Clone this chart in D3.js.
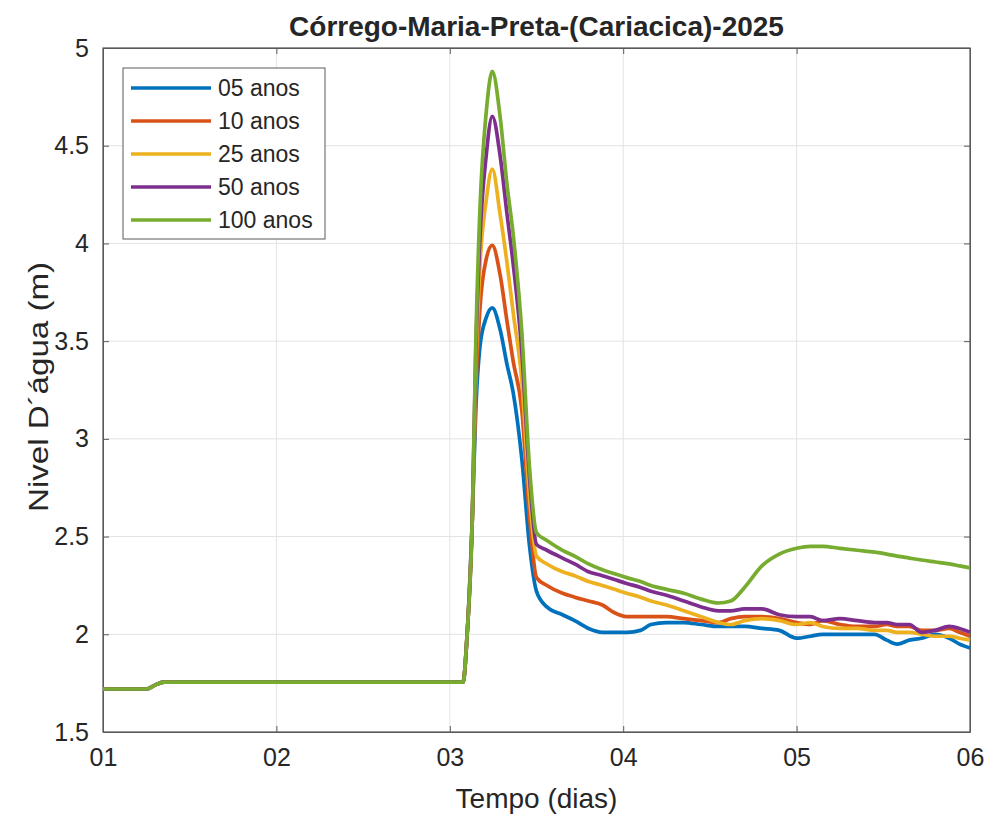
<!DOCTYPE html>
<html>
<head>
<meta charset="utf-8">
<script src="https://cdn.jsdelivr.net/npm/d3@7"></script>
<style>
  body { margin: 0; background: #fff; }
  text { font-family: "Liberation Sans", Arial, sans-serif; fill: #262626; }
</style>
</head>
<body>
<div id="chart"></div>
<script>
// time in days, shared by all series
const time = [1.0, 1.25, 1.30, 1.35, 3.076, 3.10, 3.13, 3.15, 3.175, 3.21, 3.245, 3.29, 3.33, 3.365, 3.415, 3.46, 3.50,
  3.56, 3.65, 3.72, 3.80, 3.88, 3.95, 4.02, 4.10, 4.16, 4.25, 4.35, 4.45, 4.55, 4.62, 4.70, 4.80, 4.90,
  5.0, 5.08, 5.15, 5.25, 5.35, 5.45, 5.52, 5.58, 5.65, 5.72, 5.80, 5.88, 5.94, 6.0];
const base = [1.72, 1.72, 1.74, 1.755, 1.755, 2.0, 2.6];

const anos05 = base.concat([3.15, 3.48, 3.62, 3.67, 3.56, 3.38, 3.24, 2.9, 2.45, 2.22,
  2.14, 2.10, 2.07, 2.03, 2.01, 2.01, 2.01, 2.02, 2.05, 2.06, 2.06, 2.05, 2.04, 2.04, 2.04, 2.03, 2.02,
  1.98, 1.99, 2.00, 2.00, 2.00, 2.00, 1.97, 1.95, 1.97, 1.98, 2.00, 1.98, 1.95, 1.93]);
const anos10 = base.concat([3.25, 3.68, 3.92, 3.99, 3.84, 3.6, 3.4, 3.15, 2.6, 2.29,
  2.25, 2.21, 2.19, 2.17, 2.15, 2.11, 2.09, 2.09, 2.09, 2.09, 2.08, 2.07, 2.06, 2.08, 2.09, 2.09, 2.08,
  2.06, 2.05, 2.07, 2.05, 2.04, 2.04, 2.05, 2.04, 2.04, 2.02, 2.02, 2.03, 2.01, 1.99]);
const anos25 = base.concat([3.35, 3.9, 4.22, 4.38, 4.15, 3.9, 3.65, 3.3, 2.7, 2.40,
  2.36, 2.32, 2.30, 2.27, 2.25, 2.23, 2.21, 2.19, 2.17, 2.15, 2.12, 2.09, 2.06, 2.05, 2.07, 2.08, 2.07,
  2.05, 2.06, 2.04, 2.03, 2.03, 2.02, 2.02, 2.01, 2.01, 2.00, 1.99, 1.99, 1.98, 1.97]);
const anos50 = base.concat([3.45, 4.05, 4.45, 4.65, 4.45, 4.15, 3.9, 3.45, 2.8, 2.46,
  2.43, 2.39, 2.36, 2.32, 2.30, 2.28, 2.26, 2.24, 2.22, 2.20, 2.17, 2.14, 2.12, 2.12, 2.13, 2.13, 2.10,
  2.09, 2.09, 2.07, 2.08, 2.07, 2.06, 2.06, 2.05, 2.05, 2.01, 2.02, 2.04, 2.03, 2.01]);
const anos100 = base.concat([3.5, 4.2, 4.67, 4.88, 4.65, 4.3, 4.05, 3.55, 2.85, 2.52,
  2.48, 2.43, 2.40, 2.36, 2.33, 2.31, 2.29, 2.27, 2.25, 2.23, 2.21, 2.18, 2.16, 2.17, 2.24, 2.35, 2.41,
  2.44, 2.45, 2.45, 2.44, 2.43, 2.42, 2.41, 2.40, 2.39, 2.38, 2.37, 2.36, 2.35, 2.34]);

const seriesNames = ["05 anos", "10 anos", "25 anos", "50 anos", "100 anos"];
const seriesValues = [anos05, anos10, anos25, anos50, anos100];
const colors = ["#0072BD", "#D95319", "#EDB120", "#7E2F8E", "#77AC30"];
const xTicks = [1, 2, 3, 4, 5, 6];
const xTickLabels = ["01", "02", "03", "04", "05", "06"];
const yTicks = [1.5, 2, 2.5, 3, 3.5, 4, 4.5, 5];

const width = 989, height = 818;
const pLeft = 103, pRight = 970, pTop = 48, pBottom = 732;

const svg = d3.select("#chart").append("svg")
  .attr("width", width)
  .attr("height", height);

const x = d3.scaleLinear().domain([1, 6]).range([pLeft, pRight]);
const y = d3.scaleLinear().domain([1.5, 5]).range([pBottom, pTop]);

// grid
svg.append("g")
  .selectAll("line")
  .data(xTicks)
  .enter().append("line")
  .attr("x1", d => x(d)).attr("x2", d => x(d))
  .attr("y1", pTop).attr("y2", pBottom)
  .attr("stroke", "#e3e3e3").attr("stroke-width", 1);
svg.append("g")
  .selectAll("line")
  .data(yTicks)
  .enter().append("line")
  .attr("x1", pLeft).attr("x2", pRight)
  .attr("y1", d => y(d)).attr("y2", d => y(d))
  .attr("stroke", "#e3e3e3").attr("stroke-width", 1);

// axes (ticks pointing inward, box all round)
const tickFont = "25px";
svg.append("g")
  .attr("transform", `translate(0,${pBottom})`)
  .call(d3.axisBottom(x).tickValues(xTicks).tickFormat((d, i) => xTickLabels[i]).tickSizeInner(-6).tickSizeOuter(0).tickPadding(16))
  .call(g => g.selectAll("text").attr("font-size", tickFont).attr("font-family", "Liberation Sans, Arial, sans-serif").attr("fill", "#333"));
svg.append("g")
  .attr("transform", `translate(${pLeft},0)`)
  .call(d3.axisLeft(y).tickValues(yTicks).tickFormat(d3.format("")).tickSizeInner(-6).tickSizeOuter(0).tickPadding(14))
  .call(g => g.selectAll("text").attr("font-size", tickFont).attr("font-family", "Liberation Sans, Arial, sans-serif").attr("fill", "#333"));
svg.append("g")
  .attr("transform", `translate(0,${pTop})`)
  .call(d3.axisTop(x).tickValues(xTicks).tickFormat("").tickSizeInner(-6).tickSizeOuter(0));
svg.append("g")
  .attr("transform", `translate(${pRight},0)`)
  .call(d3.axisRight(y).tickValues(yTicks).tickFormat("").tickSizeInner(-6).tickSizeOuter(0));
svg.selectAll(".domain, .tick line").attr("stroke", "#5a5a5a");

svg.append("rect")
  .attr("x", pLeft).attr("y", pTop)
  .attr("width", pRight - pLeft).attr("height", pBottom - pTop)
  .attr("fill", "none").attr("stroke", "#5a5a5a").attr("stroke-width", 1.2);

// lines
const line = d3.line()
  .x((d, i) => x(time[i]))
  .y(d => y(d))
  .curve(d3.curveMonotoneX);

svg.append("g")
  .selectAll("path")
  .data(seriesValues)
  .enter().append("path")
  .attr("d", d => line(d))
  .attr("fill", "none")
  .attr("stroke", (d, i) => colors[i])
  .attr("stroke-width", 3.7)
  .attr("stroke-linejoin", "round");

// legend
const leg = svg.append("g").attr("transform", "translate(123,68)");
leg.append("rect")
  .attr("width", 202).attr("height", 171)
  .attr("fill", "#fff").attr("stroke", "#5a5a5a").attr("stroke-width", 1);
const items = leg.selectAll("g.item")
  .data(seriesNames)
  .enter().append("g")
  .attr("class", "item")
  .attr("transform", (d, i) => `translate(0,${20 + i * 33})`);
items.append("line")
  .attr("x1", 8).attr("x2", 88)
  .attr("stroke", (d, i) => colors[i])
  .attr("stroke-width", 3.7);
items.append("text")
  .attr("x", 95).attr("y", 8)
  .attr("font-size", "23px")
  .text(d => d);

// title and labels
svg.append("text")
  .attr("x", (pLeft + pRight) / 2).attr("y", 36)
  .attr("text-anchor", "middle")
  .attr("font-size", "28px").attr("font-weight", "bold")
  .attr("fill", "#000")
  .text("Córrego-Maria-Preta-(Cariacica)-2025");
svg.append("text")
  .attr("x", (pLeft + pRight) / 2).attr("y", 808)
  .attr("text-anchor", "middle")
  .attr("font-size", "28px")
  .text("Tempo (dias)");
svg.append("text")
  .attr("transform", `translate(48,${(pTop + pBottom) / 2 - 3}) rotate(-90)`)
  .attr("text-anchor", "middle")
  .attr("font-size", "28px")
  .attr("textLength", 250)
  .attr("lengthAdjust", "spacingAndGlyphs")
  .text("Nivel D´água (m)");
</script>
</body>
</html>
